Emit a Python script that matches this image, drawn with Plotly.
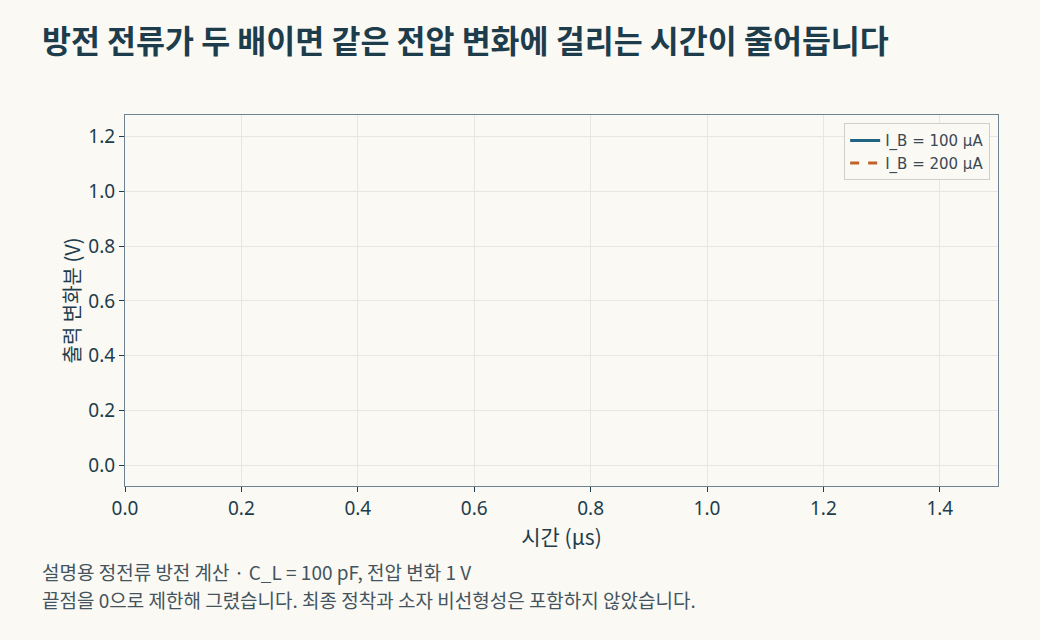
import plotly.graph_objects as go

# series shown in the legend (the reference plot area shows no drawn lines)
series_names = ["I_B = 100 μA", "I_B = 200 μA"]
series_colors = ["#1f6482", "#c0622a"]
series_dash = ["solid", "dash"]

x_ticks = [0.0, 0.2, 0.4, 0.6, 0.8, 1.0, 1.2, 1.4]
y_ticks = [0.0, 0.2, 0.4, 0.6, 0.8, 1.0, 1.2]

title = "방전 전류가 두 배이면 같은 전압 변화에 걸리는 시간이 줄어듭니다"
note_1 = "설명용 정전류 방전 계산 · C_L = 100 pF, 전압 변화 1 V"
note_2 = "끝점을 0으로 제한해 그렸습니다. 최종 정착과 소자 비선형성은 포함하지 않았습니다."

kr_font = "Noto Sans CJK KR, sans-serif"
num_font = "Noto Sans, Noto Sans CJK KR, sans-serif"
ink = "#1e3d4c"
bg = "#faf9f4"

fig = go.Figure()
for name, color, dash in zip(series_names, series_colors, series_dash):
    fig.add_trace(go.Scatter(
        x=[None],
        y=[None],
        mode='lines',
        name=name,
        line=dict(color=color, width=3, dash=dash),
    ))

axis_common = dict(
    showgrid=True,
    gridcolor='#e6e6e3',
    gridwidth=1,
    zeroline=False,
    showline=True,
    linecolor='#6e8291',
    linewidth=1.2,
    mirror=True,
    ticks='outside',
    ticklen=5,
    tickcolor=ink,
    tickfont=dict(family=num_font, size=19, color=ink),
)

fig.update_layout(
    width=1040,
    height=640,
    paper_bgcolor=bg,
    plot_bgcolor=bg,
    margin=dict(l=125, r=42, t=115, b=154),
    font=dict(family=kr_font, color=ink),
    title=dict(
        text=f"<b>{title}</b>",
        x=42 / 1040,
        xanchor='left',
        y=1 - 42 / 640,
        yanchor='middle',
        font=dict(family=kr_font, size=31.5, color=ink),
    ),
    xaxis=dict(
        axis_common,
        range=[0, 1.5],
        tickvals=x_ticks,
        tickformat='.1f',
        title=dict(text="시간 (μs)", font=dict(family=kr_font, size=21, color=ink), standoff=2),
    ),
    yaxis=dict(
        axis_common,
        range=[-0.076, 1.279],
        tickvals=y_ticks,
        tickformat='.1f',
        title=dict(text="출력 변화분 (V)", font=dict(family=kr_font, size=20, color=ink), standoff=2),
    ),
    legend=dict(
        x=0.991,
        y=0.978,
        xanchor='right',
        yanchor='top',
        bgcolor=bg,
        bordercolor='#cfcfcc',
        borderwidth=1,
        font=dict(family="DejaVu Sans, sans-serif", size=15, color='#3a4a55'),
    ),
    showlegend=True,
)

fig.add_annotation(
    text=note_1, xref='paper', yref='paper',
    x=-85 / 873, y=-(571 - 486) / 371,
    xanchor='left', yanchor='middle', showarrow=False,
    font=dict(family=kr_font, size=19, color='#44545e'),
)
fig.add_annotation(
    text=note_2, xref='paper', yref='paper',
    x=-85 / 873, y=-(599 - 486) / 371,
    xanchor='left', yanchor='middle', showarrow=False,
    font=dict(family=kr_font, size=19, color='#44545e'),
)

fig.write_html(
    "out.html",
    config={'displayModeBar': False},
    post_script="document.body.style.margin='0';",
)
